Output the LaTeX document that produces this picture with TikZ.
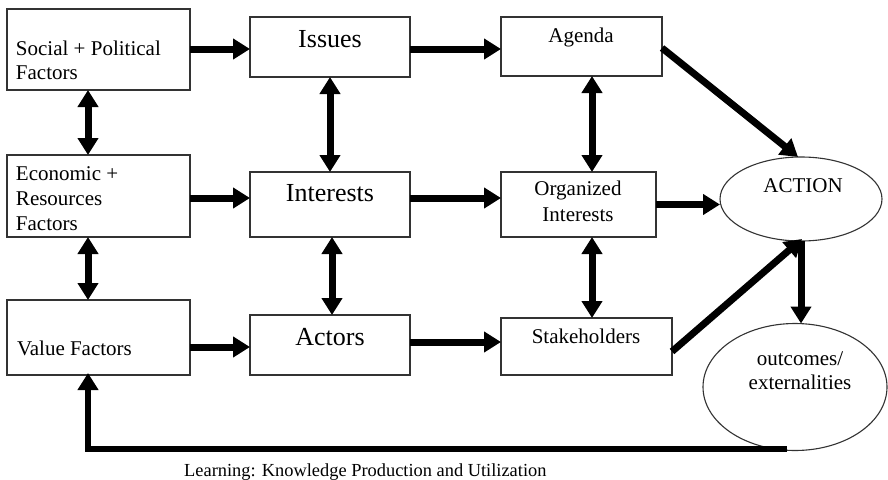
\documentclass[tikz,border=0pt]{standalone}
\usepackage{fontspec}
\setmainfont{Liberation Serif}
\usetikzlibrary{arrows.meta,shapes.geometric}

\tikzset{
  box/.style={draw=black!80, line width=1.3pt, rectangle, inner sep=0pt, outer sep=0pt, fill=white},
  oval/.style={draw=black!80, line width=1.1pt, ellipse, inner sep=0pt, outer sep=0pt, fill=white},
  txt/.style={inner sep=0pt, outer sep=0pt, font=\fontsize{21}{25}\selectfont},
  bigtxt/.style={inner sep=0pt, outer sep=0pt, font=\fontsize{26}{30}\selectfont},
  arr/.style={line width=7pt, -{Triangle[length=17pt,width=20pt]}},
  darr/.style={line width=7pt, {Triangle[length=17pt,width=20pt]}-{Triangle[length=17pt,width=20pt]}},
  fbarr/.style={line width=6pt, -{Triangle[length=17pt,width=20pt]}},
}

\begin{document}
\begin{tikzpicture}[x=1pt, y=-1pt]
  \useasboundingbox[fill=white] (0,0) rectangle (888,479);

  % factor boxes
  \node[box, minimum width=183pt, minimum height=81pt] (soc) at (98.5,49.5) {};
  \node[box, minimum width=183pt, minimum height=82pt] (eco) at (98.5,196) {};
  \node[box, minimum width=183pt, minimum height=75pt] (val) at (98.5,337.5) {};

  % middle column
  \node[box, minimum width=160pt, minimum height=60pt] (iss) at (330,47) {};
  \node[box, minimum width=160pt, minimum height=65pt] (int) at (330,204.5) {};
  \node[box, minimum width=160pt, minimum height=60pt] (act) at (330,345) {};

  % right column
  \node[box, minimum width=161pt, minimum height=59pt] (age) at (581.5,46.5) {};
  \node[box, minimum width=155pt, minimum height=65pt] (org) at (578.5,204.5) {};
  \node[box, minimum width=171pt, minimum height=57pt] (stk) at (586.5,346.5) {};

  % ellipses
  \node[oval, minimum width=162pt, minimum height=84pt] (action) at (801,199) {};
  \node[oval, minimum width=184pt, minimum height=127pt] (outc) at (795,387) {};

  % texts
  \node[txt, anchor=base west] (socA) at (16,55) {Social + Political};
  \node[txt, anchor=base west] (socB) at (16,79) {Factors};
  \node[txt, anchor=base west] (ecoA) at (16,180) {Economic +};
  \node[txt, anchor=base west] (ecoB) at (16,205) {Resources};
  \node[txt, anchor=base west] (ecoC) at (16,230) {Factors};
  \node[txt, anchor=base west] (valA) at (17,355) {Value Factors};

  \node[bigtxt, anchor=base] (issT) at (330,47) {Issues};
  \node[bigtxt, anchor=base] (intT) at (330,201) {Interests};
  \node[bigtxt, anchor=base] (actT) at (330,345) {Actors};

  \node[txt, anchor=base] (ageT) at (581,42) {Agenda};
  \node[txt, anchor=base] (orgA) at (578,195) {Organized};
  \node[txt, anchor=base] (orgB) at (578,221) {Interests};
  \node[txt, anchor=base] (stkT) at (586,343) {Stakeholders};

  \node[txt, anchor=base] (actionT) at (803,192) {ACTION};
  \node[txt, anchor=base] (outA) at (800,365) {outcomes/};
  \node[txt, anchor=base] (outB) at (800,389) {externalities};

  \node[inner sep=0pt, font=\fontsize{18.4}{22}\selectfont, anchor=base west] (learn) at (184,476)
    {Learning: Knowledge Production and Utilization};

  % horizontal flows
  \draw[arr] ([yshift=0.5pt]soc.east) -- ([yshift=0.5pt]soc.east -| iss.west);
  \draw[arr] ([yshift=-2pt]iss.east) -- ([yshift=-2pt]iss.east -| age.west);
  \draw[arr] ([yshift=-2pt]eco.east) -- ([yshift=-2pt]eco.east -| int.west);
  \draw[arr] ([yshift=6.5pt]int.east) -- ([yshift=6.5pt]int.east -| org.west);
  \draw[arr] (org.east) -- (org.east -| action.west);
  \draw[arr] ([yshift=-2pt]act.west -| val.east) -- ([yshift=-2pt]act.west);
  \draw[arr] ([yshift=3pt]act.east) -- ([yshift=3pt]act.east -| stk.west);

  % into and out of ACTION
  \draw[arr] ([yshift=-1.5pt]age.east) -- ([xshift=-3pt]action.north);
  \draw[arr] ([yshift=-5pt]stk.east) -- ([xshift=1pt,yshift=2pt]action.south);
  \draw[arr] (action.south) -- (action.south |- outc.north);

  % vertical two-way links
  \draw[darr] ([xshift=-10.5pt]soc.south) -- ([xshift=-10.5pt]eco.north);
  \draw[darr] ([xshift=-10.5pt]eco.south) -- ([xshift=-10.5pt]val.north);
  \draw[darr] (iss.south) -- (int.north);
  \draw[darr] ([xshift=2pt]int.south) -- ([xshift=2pt]act.north);
  \draw[darr] ([xshift=10.5pt]age.south) -- ([xshift=13.5pt]org.north);
  \draw[darr] ([xshift=13.5pt]org.south) -- ([xshift=5.5pt]stk.north);

  % feedback loop
  \coordinate (fbcorner) at (88,449);
  \draw[fbarr] ([xshift=-8pt]outc.south |- fbcorner) -- (fbcorner) -- ([xshift=-10.5pt,yshift=2pt]val.south);
\end{tikzpicture}
\end{document}
